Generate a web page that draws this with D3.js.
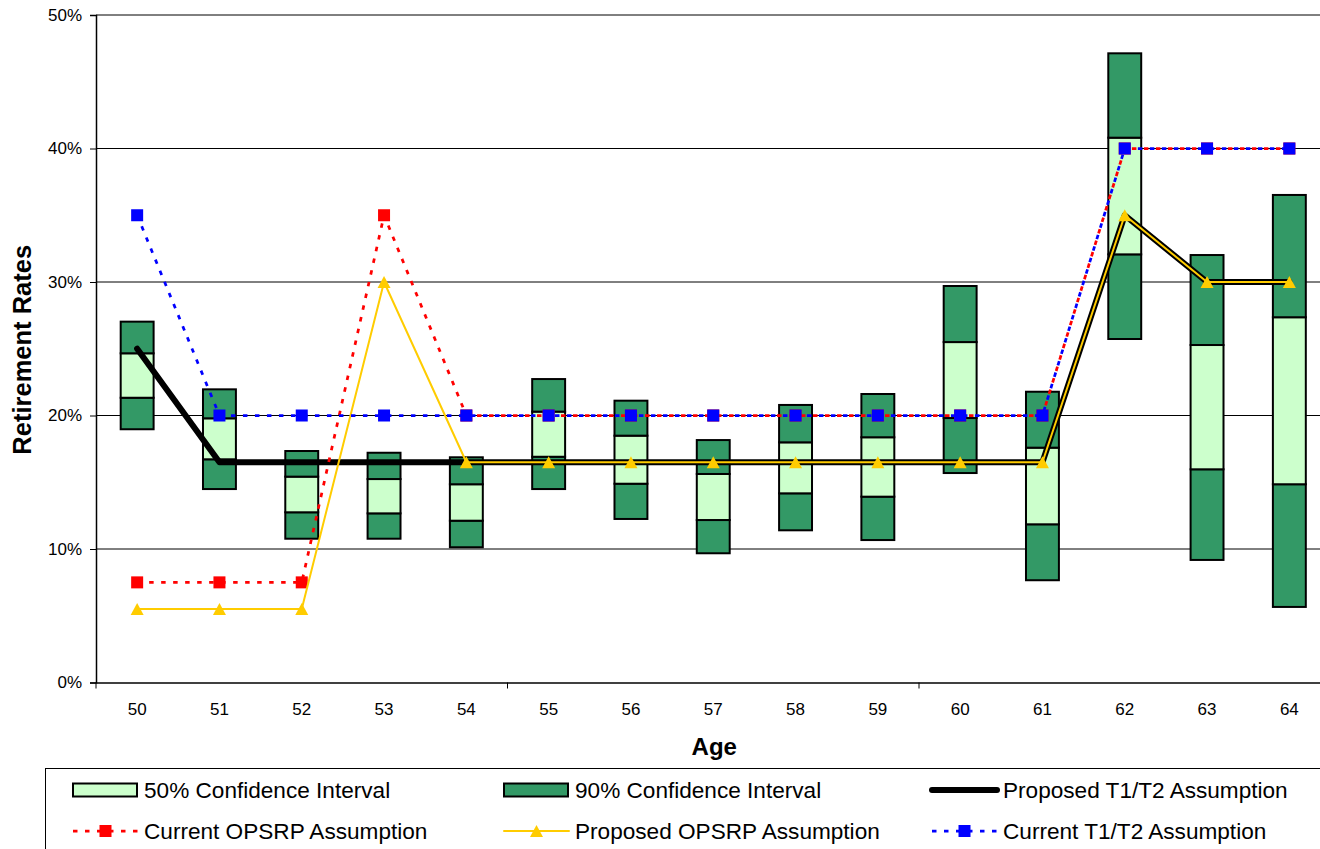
<!DOCTYPE html>
<html>
<head>
<meta charset="utf-8">
<script src="https://cdn.jsdelivr.net/npm/d3@7"></script>
<style>
  html, body { margin: 0; padding: 0; background: #fff; overflow: hidden; }
  svg { display: block; font-family: Arial, "Liberation Sans", sans-serif; }
</style>
</head>
<body>
<svg id="chart" width="1320" height="849"></svg>
<script>
// Ages on the horizontal axis
const ages = [50, 51, 52, 53, 54, 55, 56, 57, 58, 59, 60, 61, 62, 63, 64];

// Confidence interval bounds (percent)
const ci90Low  = [18.97, 14.49, 10.77, 10.77, 10.13, 14.49, 12.25, 9.68, 11.40, 10.67, 15.69, 7.66, 25.73, 9.18, 5.66];
const ci50Low  = [21.33, 16.72, 12.75, 12.67, 12.12, 16.91, 14.89, 12.17, 14.17, 13.92, 19.81, 11.85, 32.07, 15.97, 14.85];
const ci50High = [24.66, 19.79, 15.42, 15.24, 14.85, 20.29, 18.49, 15.62, 17.99, 18.37, 25.50, 17.59, 40.81, 25.28, 27.36];
const ci90High = [27.03, 21.96, 17.34, 17.21, 16.87, 22.73, 21.11, 18.16, 20.79, 21.61, 29.70, 21.78, 47.13, 32.02, 36.52];

// Assumption series (percent)
const proposedT1T2  = [25, 16.5, 16.5, 16.5, 16.5, 16.5, 16.5, 16.5, 16.5, 16.5, 16.5, 16.5, 35, 30, 30];
const currentOPSRP  = [7.5, 7.5, 7.5, 35, 20, 20, 20, 20, 20, 20, 20, 20, 40, 40, 40];
const proposedOPSRP = [5.5, 5.5, 5.5, 30, 16.5, 16.5, 16.5, 16.5, 16.5, 16.5, 16.5, 16.5, 35, 30, 30];
const currentT1T2   = [35, 20, 20, 20, 20, 20, 20, 20, 20, 20, 20, 20, 40, 40, 40];

// Axis ticks
const yTicks = [0, 10, 20, 30, 40, 50];
const xAxisTitle = "Age";
const yAxisTitle = "Retirement Rates";

const svg = d3.select("#chart");

const plotLeft = 96, plotRight = 1330.5, plotTop = 15, plotBottom = 682.5;

const x = d3.scaleBand().domain(ages).range([plotLeft, plotRight]).padding(0);
const y = d3.scaleLinear().domain([0, 50]).range([plotBottom, plotTop]);
const boxW = x.bandwidth() * 0.4;
const cx = a => x(a) + x.bandwidth() / 2;

const DARK = "#339966", LIGHT = "#CCFFCC", RED = "#FF0000", BLUE = "#0000FF", GOLD = "#FFCC00";

// Horizontal gridlines
svg.append("g")
  .selectAll("line")
  .data(yTicks.filter(t => t > 0))
  .join("line")
  .attr("x1", plotLeft).attr("x2", plotRight)
  .attr("y1", d => y(d)).attr("y2", d => y(d))
  .attr("stroke", "#000").attr("stroke-width", 1);

// Y axis
const yAxis = d3.axisLeft(y).tickValues(yTicks).tickFormat(d => d + "%").tickSize(6).tickPadding(8);
const gy = svg.append("g").attr("transform", `translate(${plotLeft},0)`).call(yAxis);
gy.select(".domain").attr("stroke", "#000").attr("stroke-width", 1.5);
gy.selectAll(".tick line").attr("stroke", "#000");
gy.selectAll(".tick text").attr("font-size", 17).attr("fill", "#000")
  .attr("font-family", "Arial, 'Liberation Sans', sans-serif");

// X axis
const xAxis = d3.axisBottom(x).tickSize(0).tickPadding(20);
const gx = svg.append("g").attr("transform", `translate(0,${plotBottom})`).call(xAxis);
gx.select(".domain").attr("stroke", "#000").attr("stroke-width", 1.5);
gx.selectAll(".tick text").attr("font-size", 17).attr("fill", "#000")
  .attr("font-family", "Arial, 'Liberation Sans', sans-serif");
// Tick marks at every fifth category boundary
svg.append("g").selectAll("line")
  .data([0, 5, 10, 15])
  .join("line")
  .attr("x1", i => plotLeft + i * x.bandwidth())
  .attr("x2", i => plotLeft + i * x.bandwidth())
  .attr("y1", plotBottom).attr("y2", plotBottom + 6)
  .attr("stroke", "#000").attr("stroke-width", 1);

// Axis titles
svg.append("text")
  .attr("x", (plotLeft + plotRight) / 2 + 1).attr("y", 755)
  .attr("text-anchor", "middle").attr("font-size", 24).attr("font-weight", "bold")
  .text(xAxisTitle);
svg.append("text")
  .attr("transform", `translate(31,${(plotTop + plotBottom) / 2 + 1}) rotate(-90)`)
  .attr("text-anchor", "middle").attr("font-size", 25.5).attr("font-weight", "bold")
  .text(yAxisTitle);

// Confidence interval boxes: 90% tails in dark green, 50% core in light green
const boxes = ages.map((a, i) => ({ a, l90: ci90Low[i], l50: ci50Low[i], h50: ci50High[i], h90: ci90High[i] }));
const gBox = svg.append("g");
const segs = [];
boxes.forEach(b => {
  segs.push({ a: b.a, lo: b.l90, hi: b.l50, fill: DARK });
  segs.push({ a: b.a, lo: b.l50, hi: b.h50, fill: LIGHT });
  segs.push({ a: b.a, lo: b.h50, hi: b.h90, fill: DARK });
});
gBox.selectAll("rect")
  .data(segs)
  .join("rect")
  .attr("x", d => cx(d.a) - boxW / 2)
  .attr("width", boxW)
  .attr("y", d => y(d.hi))
  .attr("height", d => y(d.lo) - y(d.hi))
  .attr("fill", d => d.fill)
  .attr("stroke", "#000").attr("stroke-width", 2);

// Lines
const line = d3.line().x(d => cx(d[0])).y(d => y(d[1]));
const pts = arr => ages.map((a, i) => [a, arr[i]]);

function drawSeries(arr, opts) {
  const g = svg.append("g");
  g.append("path")
    .attr("d", line(pts(arr)))
    .attr("fill", "none")
    .attr("stroke", opts.color)
    .attr("stroke-width", opts.width)
    .attr("stroke-dasharray", opts.dash || null)
    .attr("stroke-linejoin", "round")
    .attr("stroke-linecap", opts.cap || "round");
  if (opts.marker === "square") {
    g.selectAll("rect").data(pts(arr)).join("rect")
      .attr("x", d => cx(d[0]) - 6).attr("y", d => y(d[1]) - 6)
      .attr("width", 12).attr("height", 12)
      .attr("fill", opts.color);
  } else if (opts.marker === "triangle") {
    g.selectAll("path.m").data(pts(arr)).join("path").attr("class", "m")
      .attr("transform", d => `translate(${cx(d[0])},${y(d[1])})`)
      .attr("d", "M0,-6L6.5,6L-6.5,6Z")
      .attr("fill", opts.color);
  }
}

drawSeries(proposedT1T2, { color: "#000", width: 6 });
drawSeries(currentOPSRP, { color: RED, width: 2.75, dash: "4.5,7.5", cap: "butt", marker: "square" });
drawSeries(proposedOPSRP, { color: GOLD, width: 2, marker: "triangle" });
drawSeries(currentT1T2, { color: BLUE, width: 2.75, dash: "4.5,7.5", cap: "butt", marker: "square" });

// Legend
const legend = svg.append("g");
legend.append("rect")
  .attr("x", 45.5).attr("y", 768.5).attr("width", 1400).attr("height", 200)
  .attr("fill", "#fff").attr("stroke", "#000").attr("stroke-width", 1);

const legendItems = [
  { label: "50% Confidence Interval", type: "box", fill: LIGHT, col: 0, row: 0 },
  { label: "90% Confidence Interval", type: "box", fill: DARK, col: 1, row: 0 },
  { label: "Proposed T1/T2 Assumption", type: "line", color: "#000", width: 6, col: 2, row: 0 },
  { label: "Current OPSRP Assumption", type: "line", color: RED, width: 2.75, dash: "4.5,7.5", marker: "square", col: 0, row: 1 },
  { label: "Proposed OPSRP Assumption", type: "line", color: GOLD, width: 2, marker: "triangle", col: 1, row: 1 },
  { label: "Current T1/T2 Assumption", type: "line", color: BLUE, width: 2.75, dash: "4.5,7.5", marker: "square", col: 2, row: 1 }
];
const colX = [73, 504, 932];
const rowY = [790, 831];
const symW = 65;

legendItems.forEach(it => {
  const x0 = colX[it.col], yc = rowY[it.row];
  const g = legend.append("g");
  if (it.type === "box") {
    g.append("rect").attr("x", x0).attr("y", yc - 6.5).attr("width", symW - 1).attr("height", 13)
      .attr("fill", it.fill).attr("stroke", "#000").attr("stroke-width", 2);
  } else {
    g.append("line").attr("x1", x0).attr("x2", x0 + symW).attr("y1", yc).attr("y2", yc)
      .attr("stroke", it.color).attr("stroke-width", it.width)
      .attr("stroke-dasharray", it.dash || null)
      .attr("stroke-linecap", it.dash ? "butt" : "round");
    const mx = x0 + symW / 2;
    if (it.marker === "square") {
      g.append("rect").attr("x", mx - 6).attr("y", yc - 6).attr("width", 12).attr("height", 12).attr("fill", it.color);
    } else if (it.marker === "triangle") {
      g.append("path").attr("transform", `translate(${mx},${yc})`).attr("d", "M0,-6L6.5,6L-6.5,6Z").attr("fill", it.color);
    }
  }
  g.append("text").attr("x", x0 + symW + 6).attr("y", yc).attr("dy", "0.36em")
    .attr("font-size", 22.6).attr("fill", "#000").text(it.label);
});
</script>
</body>
</html>
